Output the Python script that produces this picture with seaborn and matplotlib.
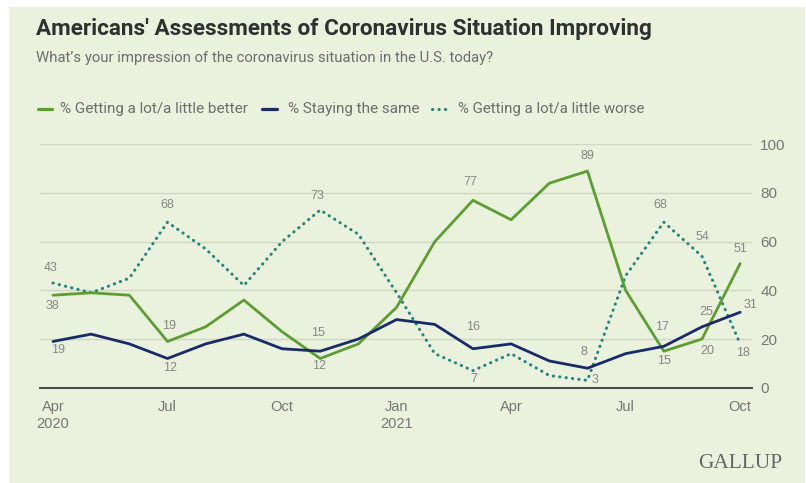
import numpy as np
import pandas as pd
import matplotlib
matplotlib.use("Agg")
import matplotlib.pyplot as plt
import seaborn as sns
from matplotlib.lines import Line2D
from matplotlib.patches import Rectangle
from matplotlib import font_manager

# ---------------- data ----------------
months = ["Apr 2020", "May 2020", "Jun 2020", "Jul 2020", "Aug 2020", "Sep 2020",
          "Oct 2020", "Nov 2020", "Dec 2020", "Jan 2021", "Feb 2021", "Mar 2021",
          "Apr 2021", "May 2021", "Jun 2021", "Jul 2021", "Aug 2021", "Sep 2021",
          "Oct 2021"]
better = [38, 39, 38, 19, 25, 36, 23, 12, 18, 33, 60, 77, 69, 84, 89, 40, 15, 20, 51]
same = [19, 22, 18, 12, 18, 22, 16, 15, 20, 28, 26, 16, 18, 11, 8, 14, 17, 25, 31]
worse = [43, 39, 45, 68, 57, 42, 60, 73, 63, 39, 14, 7, 14, 5, 3, 46, 68, 54, 18]

series_names = ["% Getting a lot/a little better", "% Staying the same",
                "% Getting a lot/a little worse"]
tick_months = ["Apr 2020", "Jul 2020", "Oct 2020", "Jan 2021", "Apr 2021",
               "Jul 2021", "Oct 2021"]
tick_labels = ["Apr\n2020", "Jul", "Oct", "Jan\n2021", "Apr", "Jul", "Oct"]
y_ticks = [0, 20, 40, 60, 80, 100]

title = "Americans' Assessments of Coronavirus Situation Improving"
subtitle = "What\u2019s your impression of the coronavirus situation in the U.S. today?"

# ---------------- styling ----------------
BG = "#EAF1DD"
GREEN = "#5C9E31"
NAVY = "#182A6A"
TEAL = "#23857F"
LABEL_C = "#878787"
TICK_C = "#777777"
DOTS = (0, (0.1, 2.0))

sns.set_theme(style="white")
avail = {f.name for f in font_manager.fontManager.ttflist}
narrow = "Liberation Sans Narrow" if "Liberation Sans Narrow" in avail else "Roboto"
plt.rcParams["font.family"] = ["Liberation Sans", "DejaVu Sans"]

df = pd.DataFrame({"month": months, "better": better, "same": same, "worse": worse})
df["x"] = np.arange(len(df))
xpos = {m: i for i, m in enumerate(months)}

W, H = 806, 483
fig = plt.figure(figsize=(W / 100, H / 100), dpi=100)
fig.patch.set_facecolor("white")
fig.patches.append(Rectangle((9 / W, 0), (805 - 9) / W, (H - 7) / H,
                             transform=fig.transFigure, facecolor=BG,
                             edgecolor="none", zorder=-10))

ax = fig.add_axes([40 / W, 1 - 387.7 / H, 712 / W, (387.7 - 144.3) / H])
ax.set_facecolor("none")

sns.lineplot(data=df, x="x", y="better", color=GREEN, linewidth=2.0, ax=ax,
             legend=False, zorder=3)
sns.lineplot(data=df, x="x", y="same", color=NAVY, linewidth=2.0, ax=ax,
             legend=False, zorder=4)
sns.lineplot(data=df, x="x", y="worse", color=TEAL, linewidth=2.2, ax=ax,
             legend=False, zorder=2, linestyle=DOTS, dash_capstyle="round")

ax.set_xlim(-0.34, 18.31)
ax.set_ylim(0, 100)
ax.set_xlabel("")
ax.set_ylabel("")
ax.set_xticks([xpos[m] for m in tick_months])
ax.set_xticklabels(tick_labels, color=TICK_C, fontsize=10.5, linespacing=1.3)
ax.yaxis.tick_right()
ax.set_yticks(y_ticks)
ax.set_yticklabels([str(v) for v in y_ticks], color=TICK_C, fontsize=11)
ax.tick_params(axis="both", length=0)
ax.tick_params(axis="x", pad=9)
ax.tick_params(axis="y", pad=6)
for s in ["top", "right", "left"]:
    ax.spines[s].set_visible(False)
ax.spines["bottom"].set_color("#3A3A3A")
ax.spines["bottom"].set_linewidth(1.3)
for v in y_ticks[1:]:
    ax.axhline(v, color="#D0D8C4", linewidth=1.0, zorder=0)

# data labels: (series, month, dx_px, dy_px)
vals = {"better": better, "same": same, "worse": worse}
labels = [
    ("worse", "Apr 2020", -2, 15), ("better", "Apr 2020", -1, -11),
    ("same", "Apr 2020", 5, -9),
    ("worse", "Jul 2020", 0, 17), ("better", "Jul 2020", 2, 15),
    ("same", "Jul 2020", 3, -10),
    ("worse", "Nov 2020", -3, 14), ("same", "Nov 2020", -2, 18),
    ("better", "Nov 2020", -1, -8),
    ("better", "Mar 2021", -3, 18), ("same", "Mar 2021", 0, 22),
    ("worse", "Mar 2021", 1, -8),
    ("better", "Jun 2021", 0, 15), ("same", "Jun 2021", -4, 16),
    ("worse", "Jun 2021", 8, 0),
    ("worse", "Aug 2021", -3, 17), ("same", "Aug 2021", -2, 19),
    ("better", "Aug 2021", 0, -10),
    ("worse", "Sep 2021", 0, 19), ("same", "Sep 2021", 4, 15),
    ("better", "Sep 2021", 5, -12),
    ("better", "Oct 2021", 0, 15), ("same", "Oct 2021", 10, 7),
    ("worse", "Oct 2021", 3, -9),
]
for key, m, dx, dy in labels:
    i = xpos[m]
    ax.annotate(str(vals[key][i]), (i, vals[key][i]), xytext=(dx, dy),
                textcoords="offset pixels", ha="center", va="center",
                fontsize=9, color=LABEL_C, annotation_clip=False, zorder=6)

# ---------------- titles / legend ----------------
def fy(py):
    return 1 - py / H

def fx(px):
    return px / W

renderer = fig.canvas.get_renderer()

def fit(t, width_px):
    w = t.get_window_extent(renderer).width
    t.set_fontsize(t.get_fontsize() * width_px / w)

t1 = fig.text(fx(36), fy(35), title, fontsize=14, fontweight="bold",
              color="#303030", family=[narrow, "DejaVu Sans"], va="baseline")
fit(t1, 616)
t2 = fig.text(fx(36), fy(62), subtitle, fontsize=10, color="#6E6E6E",
              family=[narrow, "DejaVu Sans"], va="baseline")
fit(t2, 460)

leg = [
    (series_names[0], GREEN, "-", 38, 52, 60, 189),
    (series_names[1], NAVY, "-", 262, 277, 288, 132),
    (series_names[2], TEAL, DOTS, 432, 449, 458, 186),
]
for name, c, ls, x0, x1, tx, tw in leg:
    fig.add_artist(Line2D([fx(x0), fx(x1)], [fy(109), fy(109)],
                          transform=fig.transFigure, color=c,
                          linewidth=2.3 if ls == "-" else 2.2, linestyle=ls,
                          dash_capstyle="round"))
    t = fig.text(fx(tx), fy(109), name, fontsize=10, color="#6E6E6E",
                 family=[narrow, "DejaVu Sans"], va="center")
    fit(t, tw)

g = fig.text(fx(740), fy(464), "GALLUP", fontsize=14, color="#666666",
             family=["Liberation Serif", "DejaVu Serif"], ha="center",
             va="center")
fit(g, 85)

fig.savefig("out.png", dpi=100, facecolor="white")
